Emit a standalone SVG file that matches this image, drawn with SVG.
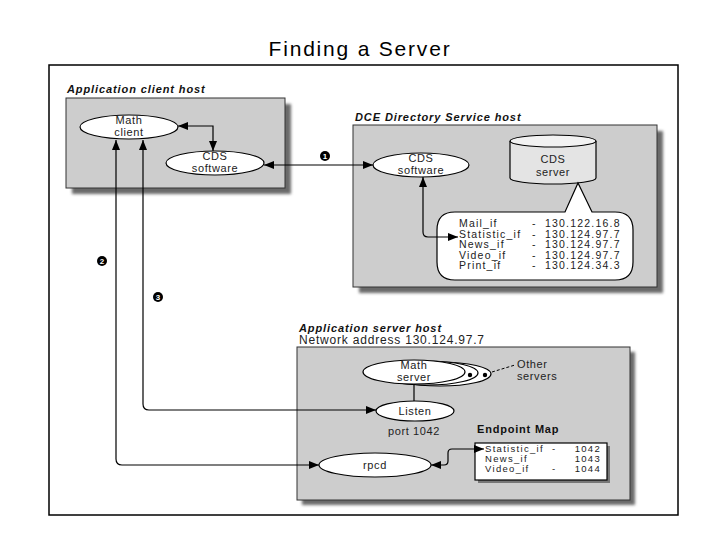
<svg xmlns="http://www.w3.org/2000/svg" width="720" height="540" viewBox="0 0 720 540">
<defs>
<marker id="ah" viewBox="0 0 10 8" refX="10" refY="4" markerWidth="10" markerHeight="8" markerUnits="userSpaceOnUse" orient="auto-start-reverse">
<path d="M0,0 L10,4 L0,8 Z" fill="#000"/>
</marker>
<filter id="blur" x="-5%" y="-5%" width="110%" height="110%"><feGaussianBlur stdDeviation="1.5"/></filter>
</defs>
<style>
.host{fill:#cdcdcd;stroke:#333;stroke-width:1}
.shadow{fill:#6a6a6a;filter:url(#blur)}
.node{fill:#fff;stroke:#000;stroke-width:1.2}
.t{font-family:"Liberation Sans",Arial,sans-serif;font-size:11px;fill:#222;letter-spacing:0.6px}
.c{text-anchor:middle}
.lbl{font-family:"Liberation Sans",Arial,sans-serif;font-size:11px;font-weight:bold;font-style:italic;fill:#111;letter-spacing:0.9px}
.eml{font-family:"Liberation Sans",Arial,sans-serif;font-size:11px;font-weight:bold;fill:#111;letter-spacing:0.8px}
.tab{font-family:"Liberation Sans",Arial,sans-serif;font-size:10.5px;fill:#222;letter-spacing:1.2px}
.etab{font-family:"Liberation Sans",Arial,sans-serif;font-size:9.5px;fill:#222;letter-spacing:1.3px}
.conn{fill:none;stroke:#000;stroke-width:1.2}
.num{fill:#000}
.numt{font-family:"Liberation Sans",Arial,sans-serif;font-size:8px;font-weight:bold;fill:#fff;text-anchor:middle}
</style>
<rect width="720" height="540" fill="#fff"/>
<text x="360" y="56" text-anchor="middle" font-family="Liberation Sans, Arial, sans-serif" font-size="21" letter-spacing="1.8" fill="#000">Finding a Server</text>
<rect x="49" y="65" width="629" height="450" fill="none" stroke="#000" stroke-width="1.5"/>

<g id="client-host">
<text class="lbl" x="67" y="93">Application client host</text>
<rect class="shadow" x="72" y="104" width="219" height="90"/>
<rect class="host" x="66" y="98" width="219" height="90"/>
</g>
<g id="dce-host">
<text class="lbl" x="355" y="121">DCE Directory Service host</text>
<rect class="shadow" x="359" y="131" width="304" height="162"/>
<rect class="host" x="353" y="125" width="304" height="162"/>
</g>
<g id="server-host">
<text class="lbl" x="299" y="332">Application server host</text>
<text class="t" x="299" y="344" style="font-size:12px;letter-spacing:0.8px">Network address 130.124.97.7</text>
<rect class="shadow" x="302" y="352" width="333" height="153"/>
<rect class="host" x="297" y="347" width="333" height="153"/>
</g>

<g id="math-client">
<ellipse class="node" cx="129" cy="127" rx="49" ry="12"/>
<text class="t c" x="129" y="124">Math</text>
<text class="t c" x="129" y="136">client</text>
</g>
<g id="cds-client">
<ellipse class="node" cx="215" cy="163" rx="49" ry="12"/>
<text class="t c" x="215" y="160">CDS</text>
<text class="t c" x="215" y="172">software</text>
</g>
<g id="cds-dce">
<ellipse class="node" cx="421" cy="165" rx="48" ry="12"/>
<text class="t c" x="421" y="162">CDS</text>
<text class="t c" x="421" y="174">software</text>
</g>
<g id="cds-server">
<path d="M510,141 V178 A43,6 0 0 0 596,178 V141" fill="#e4e4e4" stroke="#000" stroke-width="1.2"/>
<ellipse cx="553" cy="141" rx="43" ry="6" fill="#f2f2f2" stroke="#000" stroke-width="1.2"/>
<text class="t c" x="553" y="163">CDS</text>
<text class="t c" x="553" y="176">server</text>
</g>
<g id="directory-table">
<path d="M455,212 H565 L578,183 L592,212 H615 Q633,212 633,230 V262 Q633,280 615,280 H455 Q437,280 437,262 V230 Q437,212 455,212 Z" fill="#fff" stroke="#000" stroke-width="1.2"/>
<text class="tab" x="459" y="227">Mail_if</text><text class="tab" x="532" y="227">-</text><text class="tab" x="545" y="227">130.122.16.8</text>
<text class="tab" x="459" y="237.5">Statistic_if</text><text class="tab" x="532" y="237.5">-</text><text class="tab" x="545" y="237.5">130.124.97.7</text>
<text class="tab" x="459" y="248">News_if</text><text class="tab" x="532" y="248">-</text><text class="tab" x="545" y="248">130.124.97.7</text>
<text class="tab" x="459" y="258.5">Video_if</text><text class="tab" x="532" y="258.5">-</text><text class="tab" x="545" y="258.5">130.124.97.7</text>
<text class="tab" x="459" y="269">Print_if</text><text class="tab" x="532" y="269">-</text><text class="tab" x="545" y="269">130.124.34.3</text>
</g>
<g id="math-server">
<ellipse class="node" cx="440" cy="374" rx="51" ry="12"/>
<circle cx="485" cy="375" r="2.2" fill="#000"/>
<ellipse class="node" cx="427" cy="373" rx="51" ry="12"/>
<circle cx="470" cy="375" r="2.2" fill="#000"/>
<ellipse class="node" cx="414" cy="372" rx="51" ry="12"/>
<text class="t c" x="414" y="369">Math</text>
<text class="t c" x="414" y="381">server</text>
<line x1="492" y1="372" x2="515" y2="365" stroke="#000" stroke-width="1" stroke-dasharray="3,2"/>
<text class="t" x="517" y="368">Other</text>
<text class="t" x="517" y="380">servers</text>
</g>
<g id="listen">
<ellipse class="node" cx="415" cy="411" rx="39" ry="10"/>
<text class="t c" x="415" y="415">Listen</text>
<text class="t c" x="414" y="435">port 1042</text>
</g>
<g id="rpcd">
<ellipse class="node" cx="375" cy="465" rx="56" ry="12"/>
<text class="t c" x="375" y="469">rpcd</text>
</g>
<g id="endpoint-map">
<text class="eml" x="477" y="433">Endpoint Map</text>
<rect x="478" y="446" width="132" height="37" fill="#777"/>
<rect x="475" y="443" width="132" height="37" fill="#fff" stroke="#000" stroke-width="1.2"/>
<text class="etab" x="485" y="452">Statistic_if</text><text class="etab" x="552" y="452">-</text><text class="etab" x="601" y="452" text-anchor="end">1042</text>
<text class="etab" x="485" y="462">News_if</text><text class="etab" x="601" y="462" text-anchor="end">1043</text>
<text class="etab" x="485" y="472">Video_if</text><text class="etab" x="552" y="472">-</text><text class="etab" x="601" y="472" text-anchor="end">1044</text>
</g>

<g id="connectors">
<path class="conn" d="M178,126 H213 V151" marker-start="url(#ah)" marker-end="url(#ah)"/>
<path class="conn" d="M264,165 H373" marker-start="url(#ah)" marker-end="url(#ah)"/>
<path class="conn" d="M423,177 V232 Q423,237 428,237 H458" marker-start="url(#ah)" marker-end="url(#ah)"/>
<path class="conn" d="M143,140 V404 Q143,410 149,410 H376" marker-start="url(#ah)" marker-end="url(#ah)"/>
<path class="conn" d="M116,140 V459 Q116,465 122,465 H319" marker-start="url(#ah)" marker-end="url(#ah)"/>
<path class="conn" d="M414,384 V401"/>
<path class="conn" d="M431,465 H444 Q448,465 448,461 V453 Q448,449 452,449 H484" marker-start="url(#ah)" marker-end="url(#ah)"/>
<circle class="num" cx="325" cy="156" r="5"/><text class="numt" x="325" y="159">1</text>
<circle class="num" cx="102" cy="261" r="5"/><text class="numt" x="102" y="264">2</text>
<circle class="num" cx="158" cy="297" r="5"/><text class="numt" x="158" y="300">3</text>
</g>
</svg>
